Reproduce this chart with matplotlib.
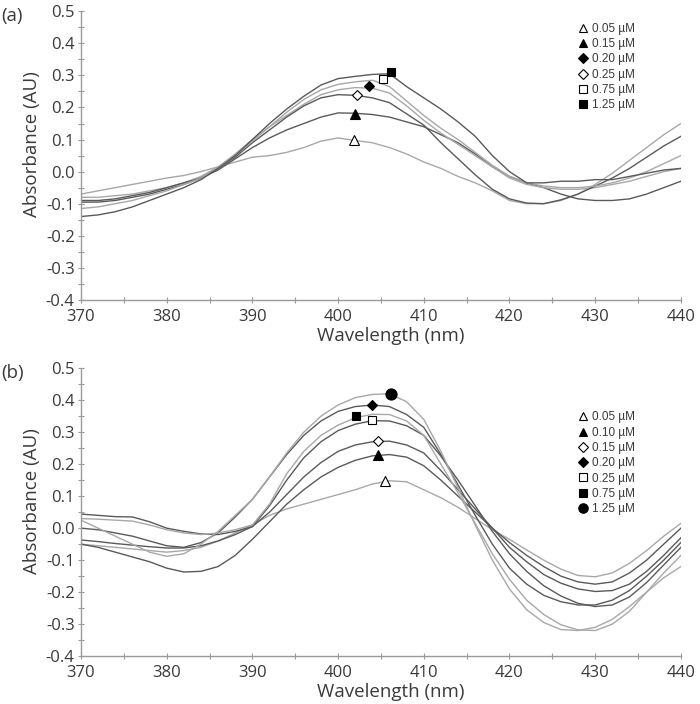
import numpy as np
import matplotlib
matplotlib.use('Agg')
import matplotlib.pyplot as plt
from matplotlib.ticker import MultipleLocator, FormatStrFormatter

plt.rcParams['font.family'] = ['Open Sans', 'DejaVu Sans']

# wavelength grid (nm)
wl = np.arange(370, 441, 2)

# ---- panel (a) spectra
a_labels = ['0.05 µM', '0.15 µM', '0.20 µM', '0.25 µM', '0.75 µM', '1.25 µM']
a_005 = [-0.07, -0.06, -0.05, -0.04, -0.03, -0.02, -0.012, 0.0, 0.015, 0.03, 0.045, 0.05,
         0.06, 0.075, 0.095, 0.105, 0.097, 0.09, 0.075, 0.055, 0.03, 0.01, -0.015, -0.035,
         -0.06, -0.09, -0.1, -0.1, -0.09, -0.07, -0.04, -0.005, 0.035, 0.075, 0.115, 0.15]
a_015 = [-0.095, -0.095, -0.09, -0.08, -0.07, -0.055, -0.04, -0.02, 0.005, 0.04, 0.075, 0.105,
         0.13, 0.15, 0.17, 0.183, 0.182, 0.178, 0.17, 0.155, 0.14, 0.115, 0.09, 0.055,
         0.015, -0.015, -0.035, -0.05, -0.07, -0.085, -0.09, -0.09, -0.085, -0.07, -0.05, -0.03]
a_020 = [-0.08, -0.08, -0.075, -0.07, -0.06, -0.05, -0.035, -0.015, 0.015, 0.055, 0.10, 0.14,
         0.175, 0.21, 0.24, 0.255, 0.262, 0.26, 0.245, 0.205, 0.16, 0.12, 0.085, 0.05,
         0.015, -0.02, -0.04, -0.05, -0.055, -0.055, -0.05, -0.04, -0.03, -0.015, 0.0, 0.01]
a_025 = [-0.09, -0.09, -0.085, -0.075, -0.065, -0.05, -0.035, -0.02, 0.01, 0.045, 0.09, 0.13,
         0.17, 0.205, 0.23, 0.24, 0.238, 0.23, 0.215, 0.18, 0.145, 0.09, 0.04, -0.01,
         -0.055, -0.085, -0.098, -0.1, -0.088, -0.07, -0.045, -0.02, 0.01, 0.045, 0.08, 0.11]
a_075 = [-0.115, -0.11, -0.10, -0.09, -0.075, -0.06, -0.04, -0.02, 0.01, 0.05, 0.095, 0.14,
         0.185, 0.225, 0.255, 0.272, 0.28, 0.285, 0.265, 0.22, 0.175, 0.135, 0.10, 0.06,
         0.02, -0.015, -0.035, -0.045, -0.05, -0.05, -0.045, -0.035, -0.02, 0.0, 0.025, 0.05]
a_125 = [-0.14, -0.135, -0.125, -0.11, -0.09, -0.07, -0.05, -0.025, 0.01, 0.05, 0.10, 0.15,
         0.195, 0.235, 0.27, 0.29, 0.297, 0.303, 0.305, 0.265, 0.23, 0.195, 0.155, 0.11,
         0.05, 0.0, -0.035, -0.035, -0.03, -0.03, -0.025, -0.025, -0.015, -0.005, 0.005, 0.01]
a_curves = [a_005, a_015, a_020, a_025, a_075, a_125]
a_shade = ['light', 'dark', 'light', 'dark', 'light', 'dark']
a_mark_x = [401.8, 402.0, 403.6, 402.2, 405.2, 406.2]
a_mark_y = [0.098, 0.181, 0.266, 0.238, 0.288, 0.311]
a_marker = ['^', '^', 'D', 'D', 's', 's']
a_fill = ['white', 'black', 'black', 'white', 'white', 'black']

# ---- panel (b) spectra
b_labels = ['0.05 µM', '0.10 µM', '0.15 µM', '0.20 µM', '0.25 µM', '0.75 µM', '1.25 µM']
b_005 = [-0.05, -0.055, -0.06, -0.065, -0.07, -0.075, -0.07, -0.06, -0.04, -0.015, 0.01, 0.04,
         0.06, 0.075, 0.09, 0.105, 0.12, 0.138, 0.148, 0.145, 0.12, 0.095, 0.065, 0.03,
         -0.005, -0.035, -0.068, -0.1, -0.128, -0.148, -0.152, -0.14, -0.11, -0.07, -0.025, 0.015]
b_010 = [-0.05, -0.06, -0.075, -0.09, -0.105, -0.125, -0.137, -0.135, -0.12, -0.085, -0.035, 0.02,
         0.075, 0.12, 0.16, 0.19, 0.212, 0.226, 0.23, 0.222, 0.195, 0.15, 0.1, 0.05,
         0.0, -0.045, -0.085, -0.12, -0.15, -0.168, -0.175, -0.168, -0.14, -0.1, -0.05, 0.0]
b_015 = [-0.037, -0.042, -0.048, -0.053, -0.058, -0.062, -0.062, -0.055, -0.04, -0.02, 0.005, 0.05,
         0.105, 0.16, 0.205, 0.24, 0.26, 0.27, 0.272, 0.26, 0.235, 0.18, 0.12, 0.06,
         0.0, -0.06, -0.105, -0.145, -0.172, -0.19, -0.198, -0.195, -0.175, -0.135, -0.085, -0.03]
b_020 = [0.0, -0.005, -0.015, -0.025, -0.04, -0.055, -0.06, -0.045, -0.015, 0.035, 0.09, 0.16,
         0.23, 0.29, 0.335, 0.365, 0.38, 0.385, 0.38, 0.355, 0.315, 0.23, 0.135, 0.04,
         -0.05, -0.125, -0.175, -0.21, -0.23, -0.24, -0.24, -0.225, -0.195, -0.15, -0.1, -0.045]
b_025 = [0.044, 0.04, 0.036, 0.035, 0.02, 0.0, -0.01, -0.018, -0.02, -0.01, 0.005, 0.07,
         0.15, 0.22, 0.27, 0.305, 0.325, 0.336, 0.335, 0.32, 0.29, 0.225, 0.15, 0.07,
         -0.01, -0.08, -0.135, -0.18, -0.212, -0.235, -0.245, -0.24, -0.215, -0.17, -0.115, -0.06]
b_075 = [0.03, 0.028, 0.025, 0.022, 0.01, -0.005, -0.015, -0.02, -0.015, -0.005, 0.01, 0.075,
         0.17, 0.24, 0.29, 0.322, 0.345, 0.356, 0.355, 0.335, 0.29, 0.2, 0.11, 0.015,
         -0.08, -0.16, -0.225, -0.27, -0.302, -0.318, -0.32, -0.3, -0.26, -0.2, -0.14, -0.085]
b_125 = [0.025, 0.0, -0.025, -0.05, -0.075, -0.088, -0.08, -0.05, -0.01, 0.04, 0.09, 0.16,
         0.235, 0.3, 0.35, 0.385, 0.408, 0.418, 0.42, 0.395, 0.34, 0.24, 0.125, 0.01,
         -0.1, -0.19, -0.255, -0.295, -0.317, -0.32, -0.31, -0.285, -0.245, -0.2, -0.155, -0.12]
b_curves = [b_005, b_010, b_015, b_020, b_025, b_075, b_125]
b_shade = ['light', 'dark', 'dark', 'dark', 'dark', 'light', 'light']
b_mark_x = [405.5, 404.7, 404.6, 404.0, 403.9, 402.1, 406.2]
b_mark_y = [0.147, 0.228, 0.273, 0.384, 0.337, 0.350, 0.419]
b_marker = ['^', '^', 'D', 'D', 's', 's', 'o']
b_fill = ['white', 'black', 'white', 'black', 'white', 'black', 'black']

shade_col = {'dark': '#5a5a5a', 'light': '#a8a8a8'}
msize = {'^': 7, 'D': 5.5, 's': 6, 'o': 8}
txt = '#3a3a3a'
legend_font = {'family': ['Liberation Sans Narrow', 'Liberation Sans'], 'size': 8.5}


def draw_panel(ax, curves, shades, mx, my, mk, fill, labels, leg_anchor, tag):
    for y, s in zip(curves, shades):
        ax.plot(wl, y, color=shade_col[s], lw=1.0, zorder=2)
    for i in range(len(labels)):
        ax.plot(mx[i], my[i], linestyle='none', marker=mk[i], ms=msize[mk[i]],
                mfc=fill[i], mec='black', mew=0.8, zorder=3, label=labels[i])

    ax.set_xlim(370, 440)
    ax.set_ylim(-0.4, 0.5)
    ax.xaxis.set_major_locator(MultipleLocator(10))
    ax.xaxis.set_minor_locator(MultipleLocator(5))
    ax.yaxis.set_major_locator(MultipleLocator(0.1))
    ax.yaxis.set_minor_locator(MultipleLocator(0.05))
    ax.yaxis.set_major_formatter(FormatStrFormatter('%.1f'))

    for side in ['top', 'right']:
        ax.spines[side].set_visible(False)
    for side in ['left', 'bottom']:
        ax.spines[side].set_color('#9a9a9a')
        ax.spines[side].set_linewidth(1.0)
    ax.tick_params(which='both', direction='inout', color='#9a9a9a', width=0.8,
                   labelsize=12, labelcolor=txt)
    ax.tick_params(which='major', length=5)
    ax.tick_params(which='minor', length=4)
    ax.tick_params(axis='x', which='major', pad=4)
    ax.tick_params(axis='y', which='major', pad=2)

    ax.set_xlabel('Wavelength (nm)', fontsize=13.5, color=txt)
    ax.set_ylabel('Absorbance (AU)', fontsize=13.5, color=txt)
    ax.xaxis.set_label_coords(0.517, -0.095)
    ax.yaxis.set_label_coords(-0.066, 0.54)

    leg = ax.legend(loc='upper left', bbox_to_anchor=leg_anchor, frameon=False,
                    prop=legend_font, handlelength=0.7, handletextpad=0.4,
                    labelspacing=0.28, borderpad=0, borderaxespad=0, markerscale=0.85)
    for t in leg.get_texts():
        t.set_color(txt)

    ax.text(-0.133, 0.985, tag, transform=ax.transAxes, fontsize=13.5, color=txt,
            ha='left', va='center')


fig = plt.figure(figsize=(7.0, 7.04), dpi=100)
ax1 = fig.add_axes([0.1157, 0.574, 0.857, 0.410])
ax2 = fig.add_axes([0.1157, 0.068, 0.857, 0.409])

draw_panel(ax1, a_curves, a_shade, a_mark_x, a_mark_y, a_marker, a_fill, a_labels,
           (0.83, 0.96), '(a)')
draw_panel(ax2, b_curves, b_shade, b_mark_x, b_mark_y, b_marker, b_fill, b_labels,
           (0.83, 0.85), '(b)')

fig.savefig('out.png', dpi=100)
